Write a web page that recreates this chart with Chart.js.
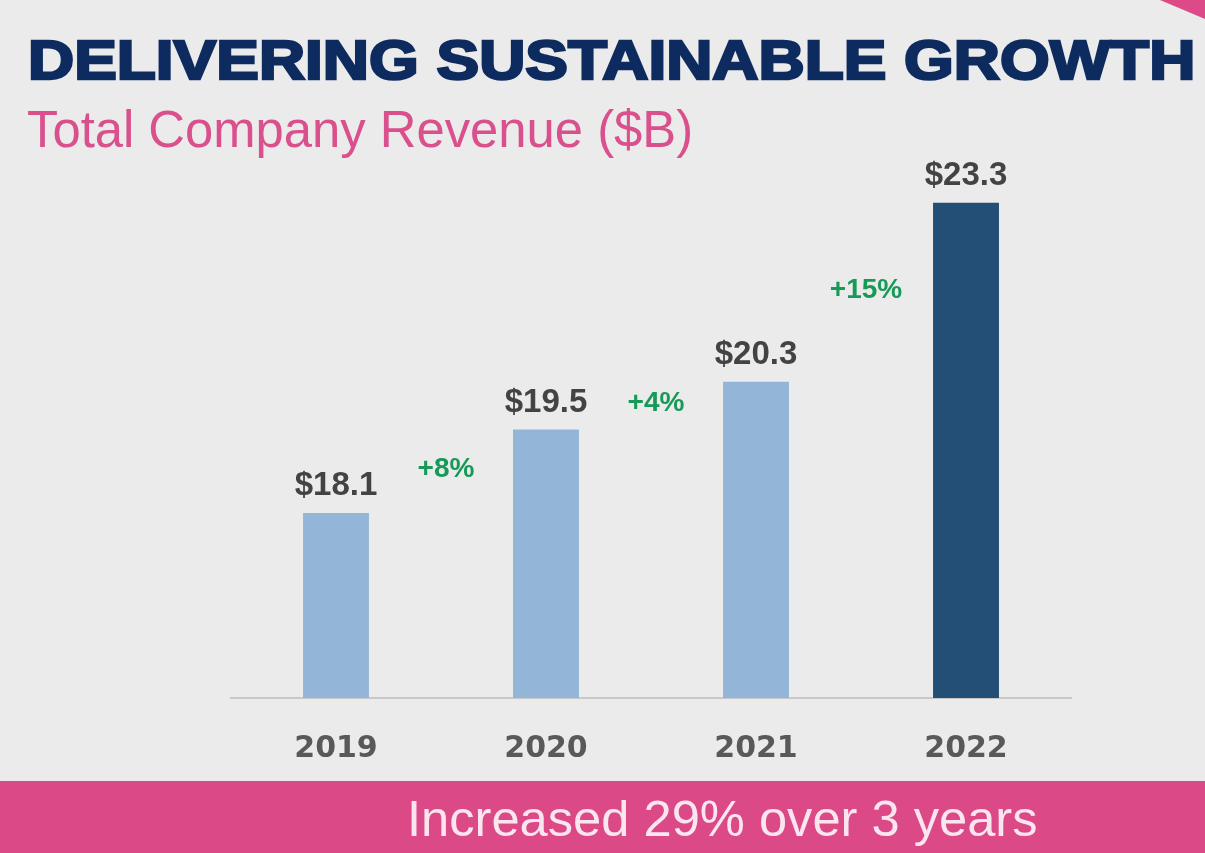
<!DOCTYPE html>
<html>
<head>
<meta charset="utf-8">
<script src="https://cdn.jsdelivr.net/npm/chart.js@4/dist/chart.umd.min.js"></script>
<style>
  html, body { margin: 0; padding: 0; }
  body {
    width: 1205px;
    height: 853px;
    background: #ebebeb;
    position: relative;
    overflow: hidden;
    font-family: "Liberation Sans", Arial, sans-serif;
  }
  .fit { position: absolute; white-space: nowrap; transform-origin: 0 0; }
  #title {
    left: 28px; top: 33px;
    font-size: 55px; line-height: 55px; font-weight: bold;
    color: #0d2b5f;
    -webkit-text-stroke: 2.5px #0d2b5f;
  }
  #subtitle {
    left: 27px; top: 103px;
    font-size: 52px; line-height: 52px;
    color: #d9508c;
  }
  #band {
    position: absolute; left: 0; top: 781px; width: 1205px; height: 72px;
    background: #db4987;
  }
  #bandText {
    left: 407px; top: 794px;
    font-size: 50px; line-height: 50px;
    color: #fbe6f0;
  }
  #corner {
    position: absolute; left: 1160px; top: 0; width: 45px; height: 19px;
    background: #dc4a88;
    clip-path: polygon(0 0, 100% 0, 100% 100%);
  }
  #wrap { position: absolute; left: 0; top: 0; width: 1205px; height: 853px; }
</style>
</head>
<body>
<div id="corner"></div>
<div id="band"></div>
<div id="wrap"><canvas id="chart"></canvas></div>
<span id="title" class="fit" data-w="1167">DELIVERING SUSTAINABLE GROWTH</span>
<span id="subtitle" class="fit" data-w="666">Total Company Revenue ($B)</span>
<span id="bandText" class="fit" data-w="631">Increased 29% over 3 years</span>
<script>
// revenue, $B
const years = ["2019", "2020", "2021", "2022"];
const revenue = [18.1, 19.5, 20.3, 23.3];
const barColors = ["#93b6d8", "#93b6d8", "#93b6d8", "#234f76"];

document.querySelectorAll(".fit").forEach(function (el) {
  const target = Number(el.dataset.w);
  el.style.transform = "scaleX(" + target / el.offsetWidth + ")";
});

// value labels above bars and growth labels between them
const barLabels = {
  id: "barLabels",
  afterDatasetsDraw(chart) {
    const ctx = chart.ctx;
    const meta = chart.getDatasetMeta(0);
    const x = chart.scales.x;
    const y = chart.scales.y;
    ctx.save();
    ctx.textAlign = "center";

    ctx.font = "bold 33px 'Liberation Sans', Arial, sans-serif";
    ctx.fillStyle = "#434343";
    ctx.textBaseline = "alphabetic";
    meta.data.forEach(function (bar, i) {
      ctx.fillText("$" + revenue[i].toFixed(1), bar.x, bar.y - 18);
    });

    ctx.font = "bold 28px 'Liberation Sans', Arial, sans-serif";
    ctx.fillStyle = "#179a57";
    ctx.textBaseline = "middle";
    for (let i = 0; i < revenue.length - 1; i++) {
      const pct = Math.round((revenue[i + 1] / revenue[i] - 1) * 100);
      const px = x.getPixelForValue(i + 0.5) + 5;
      const py = y.getPixelForValue((revenue[i] + revenue[i + 1]) / 2) - 2;
      ctx.fillText("+" + pct + "%", px, py);
    }
    ctx.restore();
  },
};

new Chart(document.getElementById("chart"), {
  type: "bar",
  data: {
    labels: years,
    datasets: [{
      data: revenue,
      backgroundColor: barColors,
      barPercentage: 0.314,
      categoryPercentage: 1,
    }],
  },
  options: {
    responsive: true,
    maintainAspectRatio: false,
    animation: false,
    events: [],
    layout: { padding: { left: 231, right: 134, top: 161, bottom: 53 } },
    plugins: {
      legend: { display: false },
      tooltip: { enabled: false },
    },
    scales: {
      x: {
        grid: { display: false, drawTicks: false },
        border: { display: true, color: "#c8c8c8", width: 2 },
        ticks: {
          padding: 33,
          color: "#595959",
          font: { family: "'DejaVu Sans'", size: 30, weight: "bold" },
        },
      },
      y: {
        display: false,
        min: 15,
        max: 24,
      },
    },
  },
  plugins: [barLabels],
});
</script>
</body>
</html>
